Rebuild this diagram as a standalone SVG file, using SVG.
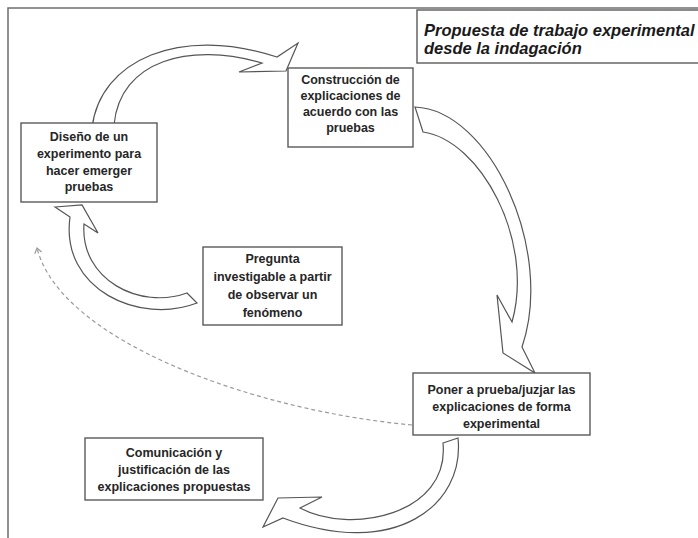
<svg xmlns="http://www.w3.org/2000/svg" width="698" height="538" viewBox="0 0 698 538">
<style>
.box{fill:#fff;stroke:#5a5a5a;stroke-width:1.4}
.t{font-family:"Liberation Sans",Arial,sans-serif;font-weight:bold;font-size:12.5px;fill:#262626;text-anchor:middle}
.title{font-family:"Liberation Sans",Arial,sans-serif;font-weight:bold;font-style:italic;font-size:16.5px;fill:#1a1a1a}
.arr{fill:#fff;stroke:#555;stroke-width:1.2;stroke-linejoin:miter}
.dash{fill:none;stroke:#9a9a9a;stroke-width:1.2;stroke-dasharray:4 3}
</style>
<defs>
<marker id="chev" markerWidth="10" markerHeight="10" refX="7" refY="5" orient="auto" markerUnits="userSpaceOnUse">
<polyline points="2,1.5 7,5 2,8.5" fill="none" stroke="#9a9a9a" stroke-width="1.2"/>
</marker>
</defs>
<rect width="698" height="538" fill="#fff"/>
<g id="frame">
<path d="M8,538 V8 H698" fill="none" stroke="#6e6e6e" stroke-width="1.5"/>
</g>
<g id="connectors">
<path class="arr" d="M92,128 C100,60 180,25 277,57 L298,43 L286,71 L239,72 L262,63 C190,42 120,60 114,125 Z"/>
<path class="arr" d="M415,107 C490,110 555,250 522,347 L535,373 L503,353 L497,295 L512,322 C535,240 480,140 423,132 Z"/>
<path class="arr" d="M443,443 L458,438 C465,505 395,560 283,518 L263,527 L278,498 L322,497 L300,508 C350,535 450,515 443,443 Z"/>
<path class="arr" d="M55,207 L82,205 L98,233 L84,224 C80,280 140,310 187,293 L197,303 C140,325 60,290 70,217 Z"/>
<path class="dash" d="M412,425 C250,410 60,340 37,248" marker-end="url(#chev)"/>
</g>
<g id="title">
<rect class="box" x="417" y="10" width="290" height="53"/>
<text class="title" x="424" y="36">Propuesta de trabajo experimental</text>
<text class="title" x="424" y="54">desde la indagación</text>
</g>
<g id="construccion">
<rect class="box" x="288" y="68" width="125" height="79"/>
<text class="t" x="350.5" y="84">Construcción de</text>
<text class="t" x="350.5" y="100">explicaciones de</text>
<text class="t" x="350.5" y="116">acuerdo con las</text>
<text class="t" x="350.5" y="132">pruebas</text>
</g>
<g id="diseno">
<rect class="box" x="21" y="123" width="136" height="79"/>
<text class="t" x="89" y="141">Diseño de un</text>
<text class="t" x="89" y="158">experimento para</text>
<text class="t" x="89" y="175">hacer emerger</text>
<text class="t" x="89" y="191">pruebas</text>
</g>
<g id="pregunta">
<rect class="box" x="203" y="247" width="139" height="78"/>
<text class="t" x="272.5" y="263">Pregunta</text>
<text class="t" x="272.5" y="281">investigable a partir</text>
<text class="t" x="272.5" y="299">de observar un</text>
<text class="t" x="272.5" y="317">fenómeno</text>
</g>
<g id="poner">
<rect class="box" x="413" y="373" width="177" height="62"/>
<text class="t" x="501.5" y="394">Poner a prueba/juzjar las</text>
<text class="t" x="501.5" y="411">explicaciones de forma</text>
<text class="t" x="501.5" y="428">experimental</text>
</g>
<g id="comunicacion">
<rect class="box" x="85" y="438" width="178" height="62"/>
<text class="t" x="174" y="457">Comunicación y</text>
<text class="t" x="174" y="474">justificación de las</text>
<text class="t" x="174" y="491">explicaciones propuestas</text>
</g>
</svg>
